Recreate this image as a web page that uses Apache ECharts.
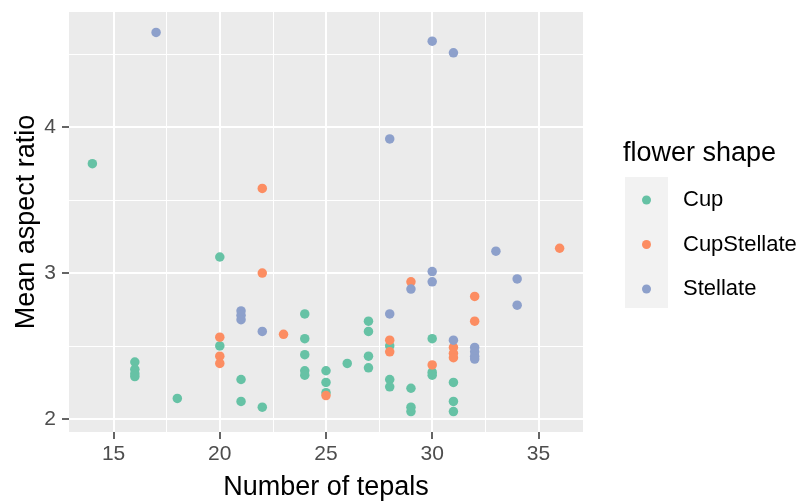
<!DOCTYPE html>
<html>
<head>
<meta charset="utf-8">
<script src="https://cdn.jsdelivr.net/npm/echarts@6/dist/echarts.min.js"></script>
<style>
html,body{margin:0;padding:0;background:#fff;}
#chart{width:808px;height:503px;}
</style>
</head>
<body>
<div id="chart"></div>
<script>
// ---- data ----
const cupX = [14, 16,16,16,16, 18, 20,20, 21,21, 22, 24,24,24,24,24, 25,25,25, 26, 27,27,27,27, 28,28,28, 29,29,29, 30,30,30, 31,31,31];
const cupY = [3.75, 2.39,2.34,2.31,2.29, 2.14, 3.11,2.50, 2.27,2.12, 2.08, 2.72,2.55,2.44,2.33,2.30, 2.33,2.25,2.18, 2.38, 2.67,2.60,2.43,2.35, 2.50,2.27,2.22, 2.21,2.08,2.05, 2.55,2.32,2.30, 2.25,2.12,2.05];

const cupStellateX = [20,20,20, 22,22, 23, 25, 28,28, 29, 30, 31,31,31, 32,32, 36];
const cupStellateY = [2.56,2.43,2.38, 3.58,3.00, 2.58, 2.16, 2.54,2.46, 2.94, 2.37, 2.49,2.45,2.42, 2.84,2.67, 3.17];

const stellateX = [17, 21,21,21, 22, 28,28, 29, 30,30,30, 31,31, 32,32,32,32, 33, 34,34];
const stellateY = [4.65, 2.74,2.71,2.68, 2.60, 3.92,2.72, 2.89, 4.59,3.01,2.94, 4.51,2.54, 2.49,2.46,2.43,2.41, 3.15, 2.96,2.78];

const groupNames = ['Cup', 'CupStellate', 'Stellate'];
const xTicks = [15, 20, 25, 30, 35];
const yTicks = [2, 3, 4];
const xMinor = [17.5, 22.5, 27.5, 32.5];
const yMinor = [2.5, 3.5, 4.5];
const xLimits = [12.9, 37.1];
const yLimits = [1.91, 4.79];

// ---- build ----
const colors = ['#66C2A5', '#FC8D62', '#8DA0CB'];
const zip = (xs, ys) => xs.map((x, i) => [x, ys[i]]);
const groups = [zip(cupX, cupY), zip(cupStellateX, cupStellateY), zip(stellateX, stellateY)];

const FONT = 'Liberation Sans, Arial, sans-serif';
const chart = echarts.init(document.getElementById('chart'), null, {renderer: 'canvas'});

const gridLines = [];
xTicks.forEach(v => gridLines.push({xAxis: v, lineStyle: {width: 2}}));
yTicks.forEach(v => gridLines.push({yAxis: v, lineStyle: {width: 2}}));
xMinor.forEach(v => gridLines.push({xAxis: v, lineStyle: {width: 1}}));
yMinor.forEach(v => gridLines.push({yAxis: v, lineStyle: {width: 1}}));

const series = [{
  type: 'scatter',
  name: '__grid',
  data: [],
  z: 1,
  silent: true,
  markLine: {
    silent: true,
    z: 1,
    symbol: ['none', 'none'],
    animation: false,
    label: {show: false},
    lineStyle: {color: '#FFFFFF', type: 'solid', width: 2},
    emphasis: {disabled: true},
    data: gridLines
  }
}];
groups.forEach((d, i) => {
  series.push({
    type: 'scatter',
    name: groupNames[i],
    data: d,
    symbol: 'circle',
    symbolSize: 9.5,
    z: 3,
    itemStyle: {color: colors[i], opacity: 1},
    emphasis: {disabled: true}
  });
});

const option = {
  animation: false,
  backgroundColor: '#FFFFFF',
  color: colors,
  title: {
    text: 'flower shape',
    left: 623,
    top: 140,
    padding: 0,
    textStyle: {fontFamily: FONT, fontSize: 27, fontWeight: 'normal', color: '#000000'}
  },
  legend: {
    data: groupNames,
    orient: 'vertical',
    left: 642,
    top: 189,
    padding: 0,
    itemWidth: 9,
    itemHeight: 9,
    itemGap: 22.5,
    icon: 'circle',
    selectedMode: false,
    formatter: n => '{t|' + n + '}',
    textStyle: {
      fontFamily: FONT, fontSize: 22, color: '#000000', lineHeight: 22,
      rich: {t: {fontFamily: FONT, fontSize: 22, color: '#000000', lineHeight: 22, padding: [0, 0, 0, 27]}}
    }
  },
  graphic: [{
    type: 'rect',
    left: 625,
    top: 177,
    z: -1,
    shape: {width: 43, height: 131},
    style: {fill: '#F2F2F2'}
  }],
  grid: {
    left: 69,
    right: 225,
    top: 12,
    bottom: 71,
    show: true,
    backgroundColor: '#EBEBEB',
    borderWidth: 0,
    containLabel: false,
    outerBoundsMode: 'none'
  },
  xAxis: {
    type: 'value',
    min: xLimits[0],
    max: xLimits[1],
    name: 'Number of tepals',
    nameLocation: 'middle',
    nameGap: 42,
    nameTextStyle: {fontFamily: FONT, fontSize: 27, color: '#000000'},
    axisLine: {show: false},
    axisTick: {show: true, length: 7, customValues: xTicks, lineStyle: {color: '#333333', width: 1.5}},
    axisLabel: {customValues: xTicks, margin: 12, fontFamily: FONT, fontSize: 21, color: '#4D4D4D'},
    splitLine: {show: false},
    minorSplitLine: {show: false}
  },
  yAxis: {
    type: 'value',
    min: yLimits[0],
    max: yLimits[1],
    name: 'Mean aspect ratio',
    nameLocation: 'middle',
    nameGap: 29,
    nameMoveOverlap: false,
    nameTextStyle: {fontFamily: FONT, fontSize: 27, color: '#000000'},
    axisLine: {show: false},
    axisTick: {show: true, length: 7, customValues: yTicks, lineStyle: {color: '#333333', width: 1.5}},
    axisLabel: {customValues: yTicks, margin: 13, fontFamily: FONT, fontSize: 21, color: '#4D4D4D'},
    splitLine: {show: false},
    minorSplitLine: {show: false}
  },
  series: series
};
chart.setOption(option);
</script>
</body>
</html>
